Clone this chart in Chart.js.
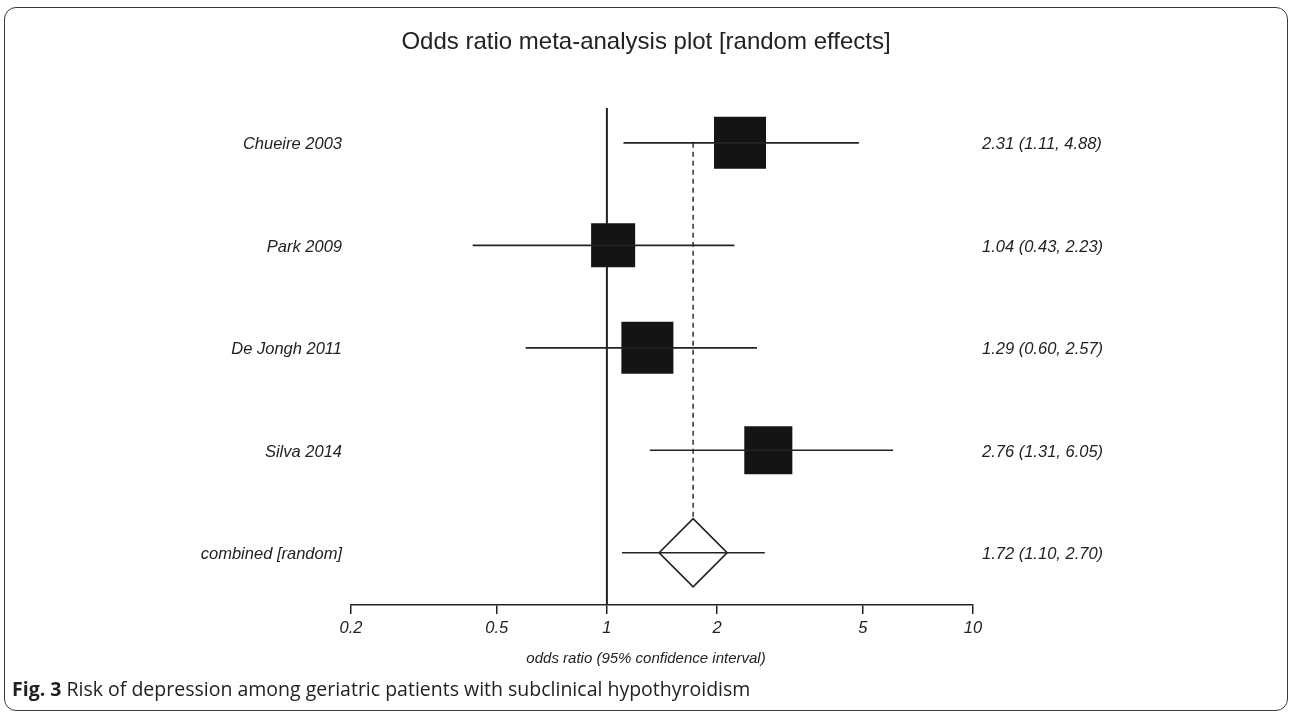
<!DOCTYPE html>
<html>
<head>
<meta charset="utf-8">
<title>Odds ratio meta-analysis plot</title>
<script src="https://cdn.jsdelivr.net/npm/chart.js@4.4.1/dist/chart.umd.min.js"></script>
<style>
  body { margin: 0; background: #fff; }
  #page { position: relative; width: 1292px; height: 713px; overflow: hidden; }
  #frame { position: absolute; left: 4px; top: 7px; width: 1284px; height: 704px; box-sizing: border-box;
           border: 1px solid #3a3a3a; border-radius: 12px; pointer-events: none; }
  #myChart { position: absolute; left: 0; top: 0; }
  #caption { position: absolute; left: 12px; top: 675px; font-family: 'Open Sans', sans-serif;
             font-size: 19.5px; color: #222; white-space: nowrap; }
  #caption b { font-weight: 700; }
</style>
</head>
<body>
<div id="page">
  <div id="frame"></div>
  <canvas id="myChart" width="1292" height="680"></canvas>
  <div id="caption"><b>Fig. 3</b> Risk of depression among geriatric patients with subclinical hypothyroidism</div>
</div>
<script>
// data
const studies = ['Chueire 2003', 'Park 2009', 'De Jongh 2011', 'Silva 2014'];
const oddsRatio = [2.31, 1.04, 1.29, 2.76];
const ciLow = [1.11, 0.43, 0.60, 1.31];
const ciHigh = [4.88, 2.23, 2.57, 6.05];
const weights = [28.0, 20.1, 28.0, 23.9]; // relative study weights (%)
const pooledLabel = 'combined [random]';
const pooled = [1.72, 1.10, 2.70]; // OR, low, high
const xTicks = [0.2, 0.5, 1, 2, 5, 10];

document.addEventListener('DOMContentLoaded', function() {
    const ctx = document.getElementById('myChart');
    if (!ctx) return;

    const ink = '#222';
    const fontFam = "'Liberation Sans', Arial, Helvetica, sans-serif";

    const rowLabels = studies.concat([pooledLabel]);
    const est = oddsRatio.concat([pooled[0]]);
    const lo = ciLow.concat([pooled[1]]);
    const hi = ciHigh.concat([pooled[2]]);
    const fmt = v => v.toFixed(2);
    const ciText = est.map((v, i) => fmt(v) + ' (' + fmt(lo[i]) + ', ' + fmt(hi[i]) + ')');
    const pooledRow = rowLabels.length - 1;

    const yMin = -0.34, yMax = 4.51;

    // horizontal CI lines, one dataset per row
    const ciSets = rowLabels.map((name, i) => ({
        label: name,
        data: [{x: lo[i], y: i}, {x: hi[i], y: i}],
        showLine: true,
        borderColor: ink,
        borderWidth: 1.7,
        pointRadius: 0,
        order: 0
    }));

    const boxSide = w => Math.sqrt(w) * 9.83;

    const datasets = ciSets.concat([
        {
            label: 'study estimates',
            data: oddsRatio.map((v, i) => ({x: v, y: i})),
            pointStyle: 'rect',
            pointRadius: weights.map(w => boxSide(w) / Math.SQRT2),
            backgroundColor: '#141414',
            borderWidth: 0,
            order: 1
        },
        {
            label: 'combined',
            data: [{x: pooled[0], y: pooledRow}],
            pointStyle: 'rectRot',
            pointRadius: 34,
            backgroundColor: '#fff',
            borderColor: ink,
            borderWidth: 1.7,
            order: 2
        },
        {
            label: 'combined estimate line',
            data: [{x: pooled[0], y: 0}, {x: pooled[0], y: pooledRow}],
            showLine: true,
            borderColor: ink,
            borderWidth: 1.4,
            borderDash: [5, 4],
            pointRadius: 0,
            order: 3
        },
        {
            label: 'no effect',
            data: [{x: 1, y: yMin}, {x: 1, y: yMax}],
            showLine: true,
            borderColor: ink,
            borderWidth: 2,
            pointRadius: 0,
            order: 4
        }
    ]);

    new Chart(ctx, {
        type: 'scatter',
        data: { datasets: datasets },
        options: {
            responsive: false,
            animation: false,
            events: [],
            layout: { padding: 0 },
            scales: {
                x: {
                    type: 'logarithmic',
                    min: 0.2,
                    max: 10,
                    afterBuildTicks: s => { s.ticks = xTicks.map(v => ({value: v})); },
                    afterFit: s => { s.height = 33; },
                    ticks: {
                        color: ink,
                        padding: 5,
                        autoSkip: false,
                        maxRotation: 0,
                        font: { family: fontFam, size: 16.5, style: 'italic' },
                        callback: v => String(v)
                    },
                    grid: { drawOnChartArea: false, drawTicks: true, tickLength: 9, color: ink, lineWidth: 1.5 },
                    border: { display: true, color: ink, width: 1.5 }
                },
                y: {
                    type: 'linear',
                    position: 'left',
                    reverse: true,
                    min: yMin,
                    max: yMax,
                    afterBuildTicks: s => { s.ticks = rowLabels.map((_, i) => ({value: i})); },
                    afterFit: s => { s.width = 351; },
                    ticks: {
                        color: ink,
                        padding: 9,
                        labelOffset: 2,
                        autoSkip: false,
                        font: { family: fontFam, size: 16.5, style: 'italic' },
                        callback: v => rowLabels[v]
                    },
                    grid: { display: false, drawTicks: false },
                    border: { display: false }
                },
                y2: {
                    type: 'linear',
                    position: 'right',
                    reverse: true,
                    min: yMin,
                    max: yMax,
                    afterBuildTicks: s => { s.ticks = ciText.map((_, i) => ({value: i})); },
                    afterFit: s => { s.width = 319; },
                    ticks: {
                        color: ink,
                        padding: 9,
                        labelOffset: 2,
                        autoSkip: false,
                        font: { family: fontFam, size: 16.5, style: 'italic' },
                        callback: v => ciText[v]
                    },
                    grid: { display: false, drawTicks: false },
                    border: { display: false }
                }
            },
            plugins: {
                legend: { display: false },
                tooltip: { enabled: false },
                title: {
                    display: true,
                    text: 'Odds ratio meta-analysis plot [random effects]',
                    color: ink,
                    padding: { top: 27.6, bottom: 51.6 },
                    font: { family: fontFam, size: 24, weight: 'normal', lineHeight: 1.2 }
                },
                // x axis caption, centred on the page like the original
                subtitle: {
                    display: true,
                    position: 'bottom',
                    text: 'odds ratio (95% confidence interval)',
                    color: ink,
                    padding: { top: 12, bottom: 12 },
                    font: { family: fontFam, size: 15, style: 'italic', lineHeight: 1.2 }
                }
            }
        }
    });
});
</script>
</body>
</html>
